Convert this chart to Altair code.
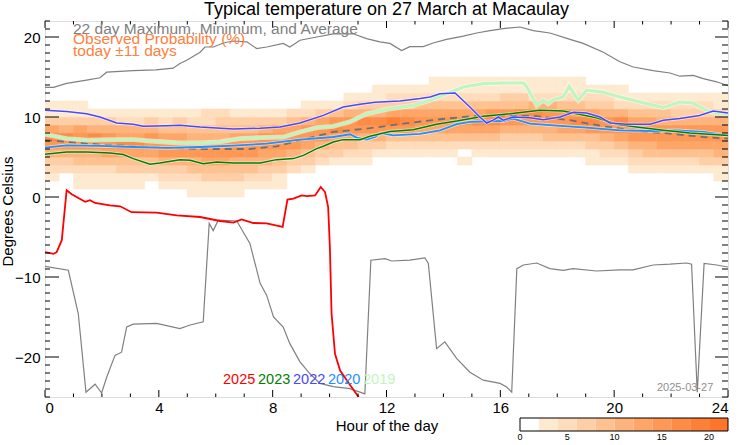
import altair as alt
import pandas as pd

TITLE = "Typical temperature on 27 March at Macaulay"
NOTE1 = "22 day Maximum, Minimum, and Average"
NOTE2 = "Observed Probability (%)"
NOTE3 = "today \u00b111 days"
DATE_LABEL = "2025-03-27"

# observed probability (%) per 1 degC row (row r covers r..r+1 degC), 48 half-hour columns
HEAT = [
    [0,0,0,0,0,0,0,0,0,0,3,3,3,3] + [0]*34,
    [0,0,3,3,3,3,3,0,3,3,3,3,3,3,3,3,3] + [0]*31,
    [3,0,3,3,3,3,3,3,5,5,5,7,7,7,5,5,3] + [0]*30 + [3],
    [5,5,5,5,5,7,7,7,7,7,9,9,9,9,9,7,7,5,3] + [0]*22 + [3]*7,
    [7,7,9,9,9,9,9,9,11,11,11,13,13,11,11,11,9,7,7,5,3,3,3] + [0]*6 + [3] + [0]*8 + [3,3,3,5,5,5,5,5,7,7],
    [11,11,11,11,13,13,13,13,15,15,15,15,15,15,15,13,13,11,9,7,7,5,5,3,3,3,3,3,3,0,3,3,3,3,3,3,3,3,3,5,5,7,9,9,9,9,9,11],
    [15,15,15,15,15,17,17,15,15,15,15,15,15,15,15,15,15,15,13,11,9,9,7,7,5,5,5,5,5,5,5,5,5,5,5,5,5,5,7,7,9,11,11,13,13,13,13,13],
    [17,17,15,17,15,13,13,15,13,13,11,11,11,13,13,15,15,15,15,15,13,13,11,11,9,9,9,9,9,9,9,9,7,7,7,9,9,9,9,11,13,15,15,15,15,15,15,15],
    [13,11,13,11,11,11,11,11,9,9,9,9,9,9,9,11,13,13,15,15,17,15,15,15,15,15,13,13,13,13,13,13,11,11,11,11,13,13,15,15,15,15,15,15,15,15,15,15],
    [7,7,7,7,7,5,5,7,5,7,5,5,7,7,7,7,7,9,11,13,15,15,17,17,19,17,15,15,15,15,17,17,15,15,15,15,15,17,17,15,17,13,13,11,11,11,11,11],
    [3,3,3,3,3,3,3,3,3,3,3,5,5,3,3,3,3,5,5,7,9,11,11,11,13,13,13,13,13,13,13,15,15,17,17,15,15,13,13,11,11,9,9,9,7,7,7,7],
    [3,3,3] + [0]*15 + [3,3,3,5,7,7,7,7,9,9,9,9,9,9,9,9,11,11,9,9,7,7,5,5,5,5,5,5,5,3],
    [0]*21 + [3,3,3,5,5,5,5,5,5,5,5,7,7,5,5,5,5,5,5,3,3,3,3,3,3,3,3],
    [0]*23 + [3]*18 + [0]*7,
    [0]*27 + [3]*11 + [0]*10,
]
PROB_BINS = [2, 4, 6, 8, 10, 12, 14, 16, 18, 20]
PALETTE = ["#ffffff", "#feead0", "#fedcbc", "#fecfa6", "#fdc290", "#fdb47c",
           "#fda668", "#fd9856", "#fd8c46", "#fd8038", "#fd752a"]
LEGEND_LO = [0, 2, 4, 6, 8, 10, 12, 14, 16, 18, 20]
LEGEND_TICKS = [0, 5, 10, 15, 20]

MAX_H = [0, 0.3, 0.76, 1.46, 1.93, 2.17, 3.1, 3.9, 4.5, 4.74, 4.98, 5.45, 5.62, 5.92, 6.27, 6.6, 7.09, 7.44, 7.79, 8.37,
         8.6, 8.96, 9.55, 10.13, 10.83, 11.3, 11.77, 12.12, 12.53, 12.82, 13.29, 13.64, 14.11, 14.7, 15.17, 15.64, 16.1,
         16.69, 17.16, 17.74, 18.45, 18.91, 19.62, 20.2, 20.67, 21.37, 21.96, 22.31, 22.78, 23.13, 23.6, 24.0]
MAX_T = [13.7, 13.7, 14.2, 14.6, 14.9, 15.6, 15.8, 15.9, 16.1, 16.7, 17.1, 18.1, 18.75, 18.75, 19.25, 19.5, 19.4, 18.55,
         18.75, 19.2, 18.75, 19.6, 20.0, 20.4, 20.4, 19.8, 19.4, 19.2, 18.3, 18.8, 18.8, 19.25, 19.7, 20.1, 20.5, 20.8,
         21.05, 21.25, 20.8, 20.5, 19.7, 19.2, 18.1, 16.9, 16.25, 15.8, 15.5, 15.1, 15.2, 14.8, 14.4, 13.9]
MIN_H = [0, 0.82, 1.17, 1.44, 1.76, 1.99, 2.17, 2.46, 2.69, 2.87, 3.1, 3.92, 4.74, 5.1, 5.56, 5.77, 5.91, 6.09, 6.74, 7.2,
         7.56, 7.79, 8.03, 8.37, 8.6, 8.96, 9.31, 9.66, 10.13, 10.72, 11.24, 11.45, 11.95, 12.18, 12.82, 13.35, 13.47,
         13.76, 14.05, 14.47, 14.93, 15.4, 15.99, 16.22, 16.4, 16.58, 16.81, 17.28, 17.74, 18.21, 18.56, 19.38, 20.2,
         20.66, 21.37, 21.96, 22.55, 22.72, 22.92, 23.16, 23.6, 24.0]
MIN_T = [-8.66, -9.16, -14.6, -24.4, -23.4, -24.5, -22.5, -19.8, -19.4, -16.25, -15.9, -15.8, -16.45, -16.0, -15.6, -3.3,
         -4.2, -2.9, -3.0, -5.8, -10.8, -12.3, -15.0, -16.25, -18.3, -20.6, -22.1, -23.3, -23.7, -23.95, -24.6, -7.9,
         -7.7, -8.0, -7.9, -7.6, -8.3, -18.95, -18.1, -20.2, -21.9, -22.9, -23.3, -23.75, -24.4, -8.95, -8.5, -8.25,
         -8.95, -9.16, -8.95, -9.25, -9.1, -9.1, -8.5, -8.4, -8.25, -8.4, -24.4, -8.3, -8.5, -8.75]
AVG_H = [0, 0.76, 1.93, 3.69, 5.45, 7.2, 8.14, 8.96, 10.13, 11.42, 12.59, 13.76, 14.93, 16.1, 17.27, 18.45, 19.62, 20.79,
         21.96, 23.13, 24.0]
AVG_T = [7.1, 6.9, 6.55, 6.25, 6.0, 6.0, 6.34, 7.1, 8.13, 8.6, 9.17, 9.67, 10.1, 10.2, 10.1, 9.6, 8.84, 8.25, 7.92, 7.5, 7.3]

Y2025_H = [0, 0.3, 0.41, 0.59, 0.76, 0.94, 1.41, 1.58, 1.76, 2.28, 2.64, 3.04, 3.92, 4.63, 5.45, 6.15, 6.62, 6.91, 7.32,
           7.79, 8.35, 8.52, 8.73, 9.02, 9.2, 9.49, 9.69, 9.84, 9.95, 10.01, 10.07, 10.19, 10.37, 10.72, 11.0, 11.1]
Y2025_T = [-6.9, -7.1, -6.9, -5.4, 0.84, 0.34, -0.6, -0.4, -0.75, -1.04, -1.16, -1.9, -1.95, -2.3, -2.5, -3.0, -3.2, -2.8,
           -3.25, -3.3, -3.75, -0.33, -0.2, 0.2, 0.1, 0.2, 1.25, 0.62, -1.25, -6.25, -14.6, -19.6, -21.7, -23.5, -24.9,
           -25.6]
Y2023_H = [0, 0.76, 1.46, 2.28, 2.75, 3.1, 3.69, 4.04, 4.74, 5.1, 5.56, 6.03, 6.62, 7.56, 8.14, 8.73, 9.08, 9.55, 9.78,
           10.13, 10.48, 11.07, 11.42, 12.12, 12.94, 13.76, 14.47, 15.4, 16.34, 17.39, 18.21, 18.68, 19.38, 20.09, 20.79,
           21.73, 22.66, 24.0]
Y2023_T = [5.34, 5.63, 5.63, 5.5, 5.3, 4.8, 4.09, 4.25, 4.67, 4.6, 4.17, 4.38, 4.25, 4.25, 4.67, 4.8, 5.2, 6.05, 6.34,
           6.88, 7.17, 7.17, 7.6, 8.2, 8.4, 9.1, 9.5, 10.1, 10.4, 10.84, 10.75, 10.4, 9.9, 9.1, 8.75, 8.34, 8.0, 7.7]
Y2022_H = [0, 0.76, 1.46, 1.93, 2.52, 3.1, 3.45, 4.28, 4.74, 5.45, 6.62, 7.56, 8.26, 8.96, 9.78, 10.48, 11.07, 11.6,
           12.47, 13.18, 13.53, 13.88, 14.41, 14.93, 15.28, 15.52, 15.75, 15.93, 16.1, 16.45, 17.04, 17.51, 18.1, 18.56,
           19.03, 19.5, 19.85, 20.44, 21.26, 21.73, 22.31, 23.0, 23.48, 24.0]
Y2022_T = [10.84, 10.7, 10.4, 10.0, 9.25, 9.1, 8.84, 8.9, 8.96, 8.75, 8.5, 8.6, 8.75, 9.25, 10.2, 11.25, 11.6, 11.85,
           12.0, 12.3, 12.5, 12.9, 13.0, 11.25, 10.0, 9.25, 9.6, 10.0, 9.6, 10.0, 9.9, 9.67, 10.0, 10.6, 10.5, 10.0, 9.25,
           9.1, 9.1, 9.6, 9.8, 10.2, 10.75, 10.5]
Y2020_H = [0, 0.76, 1.93, 3.1, 4.28, 5.45, 6.62, 7.79, 8.96, 10.13, 10.72, 10.95, 11.3, 11.6, 11.8, 12.24, 13.18, 13.88,
           14.47, 14.93, 16.1, 16.45, 17.04, 17.86, 19.03, 20.2, 21.37, 22.2, 23.13, 24.0]
Y2020_T = [6.17, 6.46, 6.38, 6.25, 6.13, 6.25, 6.42, 6.67, 7.17, 7.5, 7.84, 7.42, 7.17, 7.5, 8.0, 7.7, 7.9, 8.34, 9.1,
           9.4, 9.5, 9.8, 9.17, 8.96, 8.67, 8.34, 8.25, 8.34, 8.13, 7.7]
Y2019_H = [0, 0.76, 1.46, 2.28, 3.1, 3.69, 4.74, 5.45, 6.15, 6.85, 7.56, 8.37, 8.96, 9.55, 10.13, 10.72, 11.3, 12.0,
           12.94, 13.53, 14.11, 14.7, 15.4, 16.1, 16.81, 16.93, 17.28, 17.51, 17.68, 17.86, 18.21, 18.42, 18.59, 18.74,
           19.03, 19.62, 20.2, 21.14, 21.73, 22.31, 22.78, 23.13, 23.48, 24.0]
Y2019_T = [7.84, 7.3, 7.1, 7.17, 7.17, 7.0, 6.75, 6.75, 6.88, 7.3, 7.42, 7.5, 8.13, 8.67, 8.84, 9.4, 10.4, 10.95, 11.46,
           12.1, 12.9, 13.75, 14.17, 14.25, 14.25, 13.75, 11.46, 12.1, 11.67, 12.17, 12.5, 13.84, 12.9, 12.1, 13.34, 13.1,
           12.5, 11.67, 11.17, 11.9, 11.75, 11.05, 10.5, 10.4]

YEARS = ["2025", "2023", "2022", "2020", "2019"]
YEAR_COLORS = ["#ff0000", "#008000", "#4848ff", "#1e90ff", "#bff5bf"]

X_MAJOR = [0, 4, 8, 12, 16, 20, 24]
X_MINOR = [h for h in range(25) if h % 4]
Y_MAJOR = [-20, -10, 0, 10, 20]
Y_MINOR = [t for t in range(-25, 23) if t % 10]

FONT = "Liberation Sans"
W, H = 683, 376

# ---------- tables ----------
heat_rows = []
for r, vals in enumerate(HEAT):
    for c, p in enumerate(vals):
        if p > 0:
            heat_rows.append({"h0": c * 0.5, "h1": c * 0.5 + 0.5, "t0": r, "t1": r + 1, "p": p})
heat_df = pd.DataFrame(heat_rows)

xs = alt.Scale(domain=[0, 24], nice=False, zero=False)
ys = alt.Scale(domain=[-25, 22], nice=False, zero=False)
x_axis = alt.Axis(values=X_MAJOR, ticks=False, domain=False, grid=False, labelFontSize=15, labelPadding=3,
                  title="Hour of the day", titleFontSize=15, titleFontWeight="normal", titlePadding=3,
                  labelColor="black", titleColor="black", labelFont=FONT, titleFont=FONT)
y_axis = alt.Axis(values=Y_MAJOR, ticks=False, domain=False, grid=False, labelFontSize=15, labelPadding=5,
                  title="Degrees Celsius", titleFontSize=15, titleFontWeight="normal", titleAngle=270,
                  titleX=-33, titleY=H / 2 + 2, titleAlign="center", titleBaseline="alphabetic",
                  labelColor="black", titleColor="black", labelFont=FONT, titleFont=FONT)
color_scale = alt.Scale(type="threshold", domain=PROB_BINS, range=PALETTE)


def X(f):
    return alt.X(f, type="quantitative", scale=xs, axis=x_axis)


def Y(f):
    return alt.Y(f, type="quantitative", scale=ys, axis=y_axis)


heat = alt.Chart(heat_df).mark_rect(clip=True, strokeWidth=0.6).encode(
    x=X("h0"), x2="h1:Q", y=Y("t0"), y2="t1:Q",
    color=alt.Color("p:Q", scale=color_scale, legend=None),
    stroke=alt.Stroke("p:Q", scale=color_scale, legend=None),
)


def line_df(hs, ts):
    return pd.DataFrame({"h": hs, "t": ts})


def line(hs, ts, color, width, dash=None, halo=False):
    base = alt.Chart(line_df(hs, ts))
    kw = dict(clip=True, color=color, strokeWidth=width)
    if dash:
        kw["strokeDash"] = dash
    layers = []
    if halo:
        layers.append(base.mark_line(clip=True, color="white", strokeWidth=width + 1.6, opacity=0.55)
                      .encode(x=X("h"), y=Y("t")))
    layers.append(base.mark_line(**kw).encode(x=X("h"), y=Y("t")))
    return layers


lines = []
lines += line(MAX_H, MAX_T, "#808080", 1.2)
lines += line(MIN_H, MIN_T, "#808080", 1.2)
lines += line(AVG_H, AVG_T, "#707070", 1.8, dash=[7, 5])
lines += line(Y2019_H, Y2019_T, YEAR_COLORS[4], 3.2, halo=True)
lines += line(Y2020_H, Y2020_T, YEAR_COLORS[3], 1.8, halo=True)
lines += line(Y2023_H, Y2023_T, YEAR_COLORS[1], 1.5, halo=True)
lines += line(Y2022_H, Y2022_T, YEAR_COLORS[2], 1.5, halo=True)
lines += line(Y2025_H, Y2025_T, YEAR_COLORS[0], 1.8)

# inward ticks on all four sides
def ytick(vals, x0, x1):
    return alt.Chart(pd.DataFrame({"v": vals})).mark_rule(color="black", strokeWidth=1).encode(
        y=Y("v"), x=alt.value(x0), x2=alt.value(x1))


def xtick(vals, y0, y1):
    return alt.Chart(pd.DataFrame({"v": vals})).mark_rule(color="black", strokeWidth=1).encode(
        x=X("v"), y=alt.value(y0), y2=alt.value(y1))


ticks = [
    ytick(Y_MAJOR, 0, 14), ytick(Y_MINOR, 0, 5),
    ytick(Y_MAJOR, W, W - 13), ytick(Y_MINOR, W, W - 6),
    xtick(X_MAJOR, H, H - 7), xtick(X_MINOR, H, H - 3.5),
    xtick(X_MAJOR, 0, 7), xtick(X_MINOR, 0, 3.5),
]


def note(text, x, y, color, size, align="left"):
    return alt.Chart(pd.DataFrame({"s": [text]})).mark_text(
        align=align, baseline="alphabetic", font=FONT, fontSize=size, color=color
    ).encode(text="s:N", x=alt.value(x), y=alt.value(y))


notes = [
    note(NOTE1, 28, 12.5, "#808080", 15.5),
    note(NOTE2, 28, 22.5, "#ff8040", 15.5),
    note(NOTE3, 28, 34.5, "#ff8040", 15.5),
    note(DATE_LABEL, 612, 370, "#909090", 11),
]
for i, (yr, col) in enumerate(zip(YEARS, YEAR_COLORS)):
    notes.append(note(yr, 178 + i * 35, 363, col, 14.5))

inner = alt.layer(heat, *lines, *ticks, *notes)

# colour bar legend under the plot, bottom right
leg_df = pd.DataFrame({"lo": LEGEND_LO, "hi": [v + 2 for v in LEGEND_LO], "p": [v + 1 for v in LEGEND_LO]})
ls = alt.Scale(domain=[0, 22], range=[475, 683], nice=False, zero=False)
leg_bar = alt.Chart(leg_df).mark_rect().encode(
    x=alt.X("lo:Q", scale=ls, axis=None), x2="hi:Q",
    y=alt.value(397), y2=alt.value(410),
    color=alt.Color("p:Q", scale=color_scale, legend=None),
)
leg_box = alt.Chart(pd.DataFrame({"lo": [0], "hi": [22]})).mark_rect(
    fillOpacity=0, stroke="black", strokeWidth=1).encode(
    x=alt.X("lo:Q", scale=ls, axis=None), x2="hi:Q", y=alt.value(397), y2=alt.value(410))
leg_txt = alt.Chart(pd.DataFrame({"v": LEGEND_TICKS})).mark_text(
    baseline="top", align="center", font=FONT, fontSize=9, color="black").encode(
    x=alt.X("v:Q", scale=ls, axis=None), y=alt.value(412), text=alt.Text("v:Q"))
legend = alt.layer(leg_bar, leg_box, leg_txt)

chart = alt.layer(inner, legend).resolve_scale(x="independent").properties(
    width=W, height=H,
    title=alt.TitleParams(TITLE, fontSize=18, font=FONT, fontWeight="normal", anchor="middle", offset=2,
                          color="black"),
    padding={"left": 45, "top": 21, "right": 14, "bottom": 48},
    autosize=alt.AutoSizeParams(type="none"),
).configure_view(stroke="black", strokeWidth=1.2).configure(background="white")

chart.save("out.html", embed_options={"renderer": "svg", "actions": False})
